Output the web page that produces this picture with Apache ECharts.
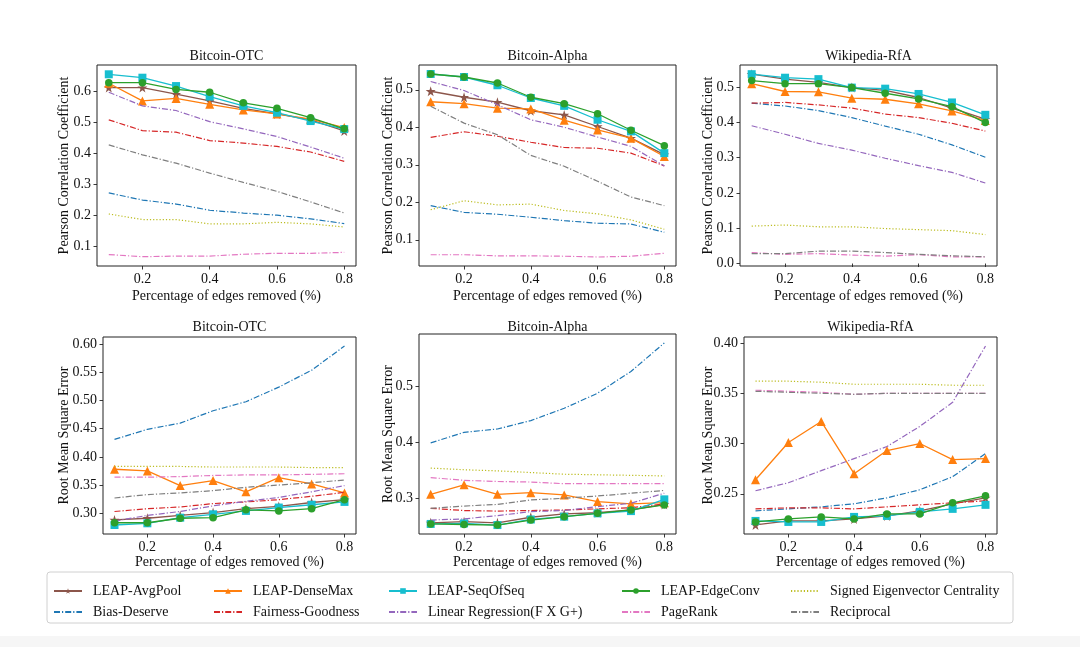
<!DOCTYPE html>
<html>
<head>
<meta charset="utf-8">
<script src="https://cdn.jsdelivr.net/npm/echarts@6/dist/echarts.min.js"></script>
<style>
html,body{margin:0;padding:0;background:#fff;}
#chart{width:1080px;height:647px;}
</style>
</head>
<body>
<div id="chart"></div>
<script>
// ---------- shared axis values ----------
const X = [0.1, 0.2, 0.3, 0.4, 0.5, 0.6, 0.7, 0.8];
const X_TICKS = [0.2, 0.4, 0.6, 0.8];

const METHODS = ['LEAP-AvgPool', 'Bias-Deserve', 'LEAP-DenseMax', 'Fairness-Goodness', 'LEAP-SeqOfSeq',
  'Linear Regression(F X G+)', 'LEAP-EdgeConv', 'PageRank', 'Signed Eigenvector Centrality', 'Reciprocal'];
const LEGEND_ROW1 = ['LEAP-AvgPool', 'LEAP-DenseMax', 'LEAP-SeqOfSeq', 'LEAP-EdgeConv', 'Signed Eigenvector Centrality'];
const LEGEND_ROW2 = ['Bias-Deserve', 'Fairness-Goodness', 'Linear Regression(F X G+)', 'PageRank', 'Reciprocal'];

const TITLES = ['Bitcoin-OTC', 'Bitcoin-Alpha', 'Wikipedia-RfA', 'Bitcoin-OTC', 'Bitcoin-Alpha', 'Wikipedia-RfA'];
const Y_NAMES = ['Pearson Correlation Coefficient', 'Root Mean Square Error'];
const X_NAME = 'Percentage of edges removed (%)';

const Y_TICKS_PCC_OTC = [0.1, 0.2, 0.3, 0.4, 0.5, 0.6];
const Y_TICKS_PCC_ALPHA = [0.1, 0.2, 0.3, 0.4, 0.5];
const Y_TICKS_PCC_WIKI = [0.0, 0.1, 0.2, 0.3, 0.4, 0.5];
const Y_TICKS_RMSE_OTC = [0.30, 0.35, 0.40, 0.45, 0.50, 0.55, 0.60];
const Y_TICKS_RMSE_ALPHA = [0.3, 0.4, 0.5];
const Y_TICKS_RMSE_WIKI = [0.25, 0.30, 0.35, 0.40];

// ---------- Bitcoin-OTC, Pearson ----------
const otcPccAvgPool   = [0.611, 0.611, 0.590, 0.568, 0.544, 0.526, 0.507, 0.471];
const otcPccDenseMax  = [0.625, 0.568, 0.576, 0.557, 0.539, 0.526, 0.509, 0.482];
const otcPccSeqOfSeq  = [0.654, 0.643, 0.616, 0.582, 0.552, 0.530, 0.503, 0.477];
const otcPccEdgeConv  = [0.627, 0.627, 0.605, 0.596, 0.562, 0.544, 0.514, 0.478];
const otcPccSignedEig = [0.203, 0.185, 0.185, 0.171, 0.171, 0.176, 0.171, 0.161];
const otcPccBias      = [0.271, 0.248, 0.235, 0.215, 0.206, 0.199, 0.187, 0.172];
const otcPccFairness  = [0.507, 0.472, 0.467, 0.440, 0.432, 0.421, 0.403, 0.373];
const otcPccLinReg    = [0.596, 0.552, 0.537, 0.501, 0.478, 0.453, 0.419, 0.383];
const otcPccPageRank  = [0.072, 0.065, 0.067, 0.067, 0.073, 0.076, 0.076, 0.079];
const otcPccRecip     = [0.426, 0.394, 0.367, 0.335, 0.305, 0.276, 0.242, 0.206];

// ---------- Bitcoin-Alpha, Pearson ----------
const alphaPccAvgPool   = [0.496, 0.480, 0.467, 0.444, 0.433, 0.402, 0.371, 0.327];
const alphaPccDenseMax  = [0.468, 0.463, 0.451, 0.449, 0.419, 0.393, 0.371, 0.322];
const alphaPccSeqOfSeq  = [0.542, 0.534, 0.512, 0.478, 0.457, 0.420, 0.389, 0.331];
const alphaPccEdgeConv  = [0.542, 0.534, 0.518, 0.480, 0.463, 0.436, 0.392, 0.351];
const alphaPccSignedEig = [0.180, 0.204, 0.193, 0.195, 0.178, 0.169, 0.153, 0.128];
const alphaPccBias      = [0.191, 0.173, 0.168, 0.160, 0.151, 0.144, 0.142, 0.120];
const alphaPccFairness  = [0.373, 0.388, 0.376, 0.360, 0.346, 0.344, 0.331, 0.297];
const alphaPccLinReg    = [0.522, 0.498, 0.460, 0.420, 0.400, 0.374, 0.349, 0.297];
const alphaPccPageRank  = [0.060, 0.060, 0.057, 0.057, 0.056, 0.054, 0.056, 0.064];
const alphaPccRecip     = [0.456, 0.411, 0.380, 0.325, 0.296, 0.256, 0.214, 0.191];

// ---------- Wikipedia-RfA, Pearson ----------
const wikiPccAvgPool   = [0.536, 0.522, 0.513, 0.498, 0.490, 0.470, 0.440, 0.409];
const wikiPccDenseMax  = [0.509, 0.487, 0.486, 0.468, 0.465, 0.452, 0.432, 0.405];
const wikiPccSeqOfSeq  = [0.536, 0.526, 0.522, 0.498, 0.495, 0.480, 0.456, 0.421];
const wikiPccEdgeConv  = [0.518, 0.509, 0.509, 0.498, 0.482, 0.466, 0.444, 0.399];
const wikiPccSignedEig = [0.106, 0.109, 0.104, 0.104, 0.099, 0.096, 0.093, 0.082];
const wikiPccBias      = [0.454, 0.446, 0.433, 0.413, 0.389, 0.366, 0.336, 0.301];
const wikiPccFairness  = [0.454, 0.456, 0.449, 0.440, 0.423, 0.413, 0.397, 0.375];
const wikiPccLinReg    = [0.390, 0.366, 0.340, 0.321, 0.298, 0.277, 0.258, 0.228];
const wikiPccPageRank  = [0.031, 0.026, 0.028, 0.024, 0.021, 0.025, 0.019, 0.019];
const wikiPccRecip     = [0.028, 0.028, 0.035, 0.035, 0.031, 0.026, 0.022, 0.019];

// ---------- Bitcoin-OTC, RMSE ----------
const otcRmseAvgPool   = [0.288, 0.291, 0.296, 0.301, 0.308, 0.312, 0.319, 0.324];
const otcRmseDenseMax  = [0.378, 0.375, 0.349, 0.358, 0.338, 0.363, 0.352, 0.336];
const otcRmseSeqOfSeq  = [0.279, 0.282, 0.292, 0.298, 0.304, 0.310, 0.315, 0.320];
const otcRmseEdgeConv  = [0.283, 0.283, 0.291, 0.292, 0.306, 0.304, 0.308, 0.324];
const otcRmseSignedEig = [0.383, 0.383, 0.383, 0.382, 0.382, 0.382, 0.381, 0.381];
const otcRmseBias      = [0.431, 0.449, 0.460, 0.482, 0.498, 0.524, 0.554, 0.597];
const otcRmseFairness  = [0.303, 0.308, 0.311, 0.317, 0.320, 0.324, 0.330, 0.337];
const otcRmseLinReg    = [0.286, 0.296, 0.303, 0.313, 0.321, 0.328, 0.338, 0.349];
const otcRmsePageRank  = [0.364, 0.364, 0.365, 0.367, 0.368, 0.368, 0.369, 0.370];
const otcRmseRecip     = [0.327, 0.333, 0.336, 0.340, 0.346, 0.350, 0.354, 0.359];

// ---------- Bitcoin-Alpha, RMSE ----------
const alphaRmseAvgPool   = [0.256, 0.258, 0.256, 0.266, 0.272, 0.274, 0.279, 0.289];
const alphaRmseDenseMax  = [0.307, 0.324, 0.307, 0.310, 0.306, 0.294, 0.290, 0.292];
const alphaRmseSeqOfSeq  = [0.254, 0.255, 0.252, 0.262, 0.267, 0.273, 0.277, 0.298];
const alphaRmseEdgeConv  = [0.254, 0.253, 0.252, 0.261, 0.267, 0.273, 0.279, 0.288];
const alphaRmseSignedEig = [0.354, 0.351, 0.349, 0.346, 0.343, 0.342, 0.341, 0.340];
const alphaRmseBias      = [0.399, 0.418, 0.424, 0.439, 0.461, 0.488, 0.527, 0.578];
const alphaRmseFairness  = [0.282, 0.278, 0.277, 0.278, 0.279, 0.281, 0.283, 0.290];
const alphaRmseLinReg    = [0.261, 0.263, 0.269, 0.276, 0.278, 0.285, 0.291, 0.309];
const alphaRmsePageRank  = [0.337, 0.332, 0.330, 0.329, 0.326, 0.326, 0.326, 0.326];
const alphaRmseRecip     = [0.282, 0.286, 0.289, 0.297, 0.300, 0.304, 0.309, 0.314];

// ---------- Wikipedia-RfA, RMSE ----------
const wikiRmseAvgPool   = [0.219, 0.223, 0.223, 0.225, 0.228, 0.233, 0.240, 0.246];
const wikiRmseDenseMax  = [0.264, 0.301, 0.322, 0.270, 0.293, 0.300, 0.284, 0.285];
const wikiRmseSeqOfSeq  = [0.223, 0.222, 0.222, 0.227, 0.228, 0.232, 0.235, 0.239];
const wikiRmseEdgeConv  = [0.222, 0.225, 0.227, 0.225, 0.230, 0.230, 0.241, 0.248];
const wikiRmseSignedEig = [0.362, 0.362, 0.361, 0.359, 0.359, 0.359, 0.358, 0.358];
const wikiRmseBias      = [0.233, 0.235, 0.237, 0.240, 0.246, 0.254, 0.267, 0.290];
const wikiRmseFairness  = [0.235, 0.236, 0.236, 0.235, 0.237, 0.239, 0.241, 0.243];
const wikiRmseLinReg    = [0.253, 0.261, 0.273, 0.285, 0.297, 0.317, 0.341, 0.397];
const wikiRmsePageRank  = [0.353, 0.352, 0.351, 0.349, 0.350, 0.350, 0.350, 0.350];
const wikiRmseRecip     = [0.352, 0.351, 0.350, 0.349, 0.350, 0.350, 0.350, 0.350];

// panel -> method arrays (same order as METHODS)
const PANELS = [
  [otcPccAvgPool, otcPccBias, otcPccDenseMax, otcPccFairness, otcPccSeqOfSeq, otcPccLinReg, otcPccEdgeConv, otcPccPageRank, otcPccSignedEig, otcPccRecip],
  [alphaPccAvgPool, alphaPccBias, alphaPccDenseMax, alphaPccFairness, alphaPccSeqOfSeq, alphaPccLinReg, alphaPccEdgeConv, alphaPccPageRank, alphaPccSignedEig, alphaPccRecip],
  [wikiPccAvgPool, wikiPccBias, wikiPccDenseMax, wikiPccFairness, wikiPccSeqOfSeq, wikiPccLinReg, wikiPccEdgeConv, wikiPccPageRank, wikiPccSignedEig, wikiPccRecip],
  [otcRmseAvgPool, otcRmseBias, otcRmseDenseMax, otcRmseFairness, otcRmseSeqOfSeq, otcRmseLinReg, otcRmseEdgeConv, otcRmsePageRank, otcRmseSignedEig, otcRmseRecip],
  [alphaRmseAvgPool, alphaRmseBias, alphaRmseDenseMax, alphaRmseFairness, alphaRmseSeqOfSeq, alphaRmseLinReg, alphaRmseEdgeConv, alphaRmsePageRank, alphaRmseSignedEig, alphaRmseRecip],
  [wikiRmseAvgPool, wikiRmseBias, wikiRmseDenseMax, wikiRmseFairness, wikiRmseSeqOfSeq, wikiRmseLinReg, wikiRmseEdgeConv, wikiRmsePageRank, wikiRmseSignedEig, wikiRmseRecip]
];
const Y_TICKS = [Y_TICKS_PCC_OTC, Y_TICKS_PCC_ALPHA, Y_TICKS_PCC_WIKI, Y_TICKS_RMSE_OTC, Y_TICKS_RMSE_ALPHA, Y_TICKS_RMSE_WIKI];

// ---------- layout & styles ----------
const FONT = 'Liberation Serif';
const STAR = 'path://M50,0 L61,35 L98,35 L68,57 L79,91 L50,70 L21,91 L32,57 L2,35 L39,35 Z';
const DASHDOT = [6, 2, 1.2, 2];
const STYLE = {
  'LEAP-AvgPool': {color: '#8c564b', symbol: STAR, size: 10},
  'LEAP-DenseMax': {color: '#ff7f0e', symbol: 'triangle', size: 9},
  'LEAP-SeqOfSeq': {color: '#17becf', symbol: 'rect', size: 8},
  'LEAP-EdgeConv': {color: '#2ca02c', symbol: 'circle', size: 7.5},
  'Signed Eigenvector Centrality': {color: '#bcbd22', dash: [1.2, 2]},
  'Bias-Deserve': {color: '#1f77b4', dash: DASHDOT},
  'Fairness-Goodness': {color: '#d62728', dash: DASHDOT},
  'Linear Regression(F X G+)': {color: '#9467bd', dash: DASHDOT},
  'PageRank': {color: '#e377c2', dash: DASHDOT},
  'Reciprocal': {color: '#7f7f7f', dash: DASHDOT}
};
const GRIDS = [
  {left: 97, top: 65, width: 259, height: 201},
  {left: 419, top: 65, width: 257, height: 201},
  {left: 740, top: 65, width: 257, height: 201},
  {left: 103, top: 337, width: 253, height: 197},
  {left: 419, top: 334, width: 257, height: 200},
  {left: 744, top: 337, width: 253, height: 197}
];
const Y_RANGE = [[0.035, 0.684], [0.030, 0.566], [-0.007, 0.562], [0.263, 0.613], [0.236, 0.594], [0.210, 0.406]];
const Y_DEC = [1, 1, 1, 2, 1, 2];
const X_RANGE = [0.065, 0.835];
const Y_NAME_GAP = [26, 24, 25, 32, 24, 29];

const grid = GRIDS.map(g => Object.assign({show: true, borderColor: '#222', borderWidth: 1, backgroundColor: 'transparent'}, g));
const tickStyle = {show: true, length: 3.5, lineStyle: {color: '#222', width: 0.9}};
const labelBase = {color: '#111', fontFamily: FONT, fontSize: 14};

const xAxis = GRIDS.map((g, i) => ({
  type: 'value', gridIndex: i, min: X_RANGE[0], max: X_RANGE[1],
  axisLine: {show: false}, splitLine: {show: false},
  axisTick: Object.assign({customValues: X_TICKS}, tickStyle),
  axisLabel: Object.assign({customValues: X_TICKS, margin: 6, formatter: v => v.toFixed(1)}, labelBase),
  name: X_NAME, nameLocation: 'middle', nameGap: i < 3 ? 23 : 20,
  nameTextStyle: {color: '#111', fontFamily: FONT, fontSize: 14}
}));
const yAxis = GRIDS.map((g, i) => ({
  type: 'value', gridIndex: i, min: Y_RANGE[i][0], max: Y_RANGE[i][1],
  axisLine: {show: false}, splitLine: {show: false},
  axisTick: Object.assign({customValues: Y_TICKS[i]}, tickStyle),
  axisLabel: Object.assign({customValues: Y_TICKS[i], margin: 6, formatter: v => v.toFixed(Y_DEC[i])}, labelBase),
  name: Y_NAMES[i < 3 ? 0 : 1], nameLocation: 'middle', nameRotate: 90,
  nameGap: Y_NAME_GAP[i], nameMoveOverlap: false,
  nameTextStyle: {color: '#111', fontFamily: FONT, fontSize: 14}
}));

const title = GRIDS.map((g, i) => ({
  text: TITLES[i], left: g.left + g.width / 2, top: (i < 3 ? 49 : 320), textAlign: 'center',
  textStyle: {color: '#111', fontFamily: FONT, fontSize: 14, fontWeight: 'normal'}, padding: 0
}));

const series = [];
PANELS.forEach((arrs, p) => {
  METHODS.forEach((name, m) => {
    const st = STYLE[name];
    const s = {
      type: 'line', name: name, xAxisIndex: p, yAxisIndex: p,
      data: X.map((x, j) => [x, arrs[m][j]]),
      color: st.color, animation: false, silent: true,
      lineStyle: {color: st.color, width: st.dash ? 1.2 : 1.3, type: st.dash ? st.dash : 'solid'},
      z: 2 + m
    };
    if (st.symbol) {
      s.symbol = st.symbol; s.symbolSize = st.size; s.showSymbol = true;
      s.itemStyle = {color: st.color, borderWidth: 0};
    } else {
      s.symbol = 'none'; s.showSymbol = false;
    }
    series.push(s);
  });
});

const COL_X = [53, 213, 388, 621, 790];
const legend = [];
[LEGEND_ROW1, LEGEND_ROW2].forEach((row, r) => {
  row.forEach((name, c) => {
    const item = STYLE[name].symbol ? {name: name} : {name: name, itemStyle: {opacity: 0}};
    legend.push({
      data: [item], left: COL_X[c], top: r === 0 ? 584 : 605, padding: 0,
      itemWidth: 28, itemHeight: 7, itemGap: 0, selectedMode: false,
      textStyle: {color: '#111', fontFamily: FONT, fontSize: 14, padding: [0, 0, 0, 6]}
    });
  });
});

const chart = echarts.init(document.getElementById('chart'), null, {renderer: 'canvas'});
chart.setOption({
  backgroundColor: '#fff',
  animation: false,
  title, grid, xAxis, yAxis, series, legend,
  graphic: [
    {type: 'rect', shape: {x: 0, y: 636, width: 1080, height: 11}, style: {fill: '#f6f6f6'}, z: -1, silent: true},
    {type: 'rect', shape: {x: 47, y: 572, width: 966, height: 51, r: 3}, style: {fill: '#fff', stroke: '#d0d0d0', lineWidth: 1}, z: -1, silent: true}
  ]
});
</script>
</body>
</html>
